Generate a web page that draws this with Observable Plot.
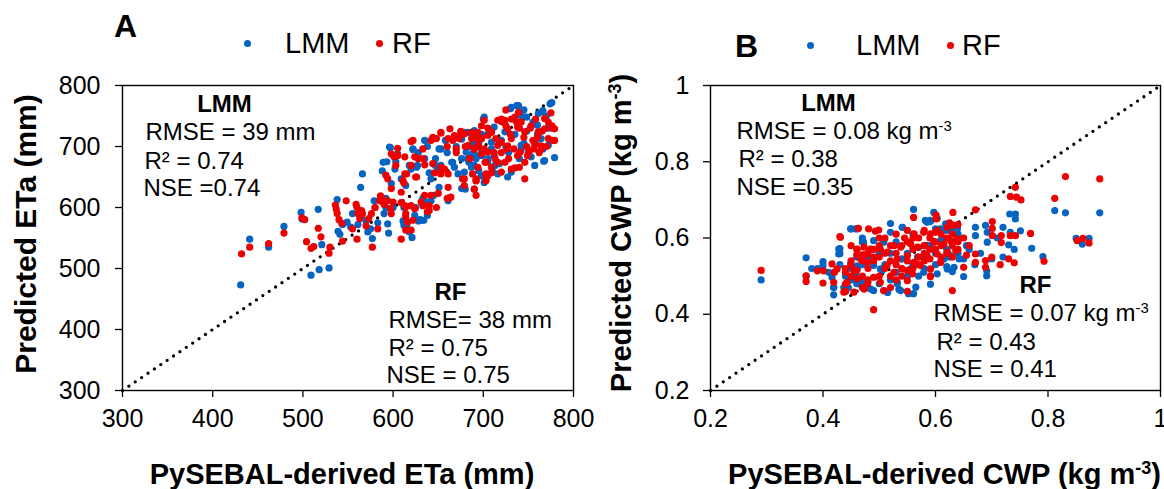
<!DOCTYPE html>
<html><head><meta charset="utf-8">
<script src="https://cdn.jsdelivr.net/npm/d3@7"></script>
<script src="https://cdn.jsdelivr.net/npm/@observablehq/plot@0.6"></script>
<style>
body{margin:0;background:#fff;font-family:"Liberation Sans",Arial,sans-serif;}
#wrap{position:relative;width:1164px;height:489px;overflow:hidden;background:#fff;}
.panel{position:absolute;top:0;width:582px;height:489px;}
.hdr{position:absolute;white-space:nowrap;color:#000;}
.ldot{position:absolute;width:7px;height:7px;border-radius:50%;}
svg{overflow:visible;}
</style></head><body><div id="wrap"></div>
<script>
// ---------- data ----------
const seriesNames = ["LMM", "RF"];
const seriesColors = ["#0563c1", "#ee0000"];
const panelLetters = ["A", "B"];

const etaTicks = [300, 400, 500, 600, 700, 800];
const cwpTicks = [0.2, 0.4, 0.6, 0.8, 1];
const etaDiag = [300, 800];
const cwpDiag = [0.2, 1];

const etaXTitle = "PySEBAL-derived ETa (mm)";
const etaYTitle = "Predicted ETa (mm)";
const cwpXTitle = "PySEBAL-derived CWP (kg m⁻³)";
const cwpYTitle = "Predicted CWP (kg m⁻³)";

const statsA_LMM = ["RMSE = 39 mm", "R² = 0.74", "NSE =0.74"];
const statsA_RF = ["RMSE= 38 mm", "R² = 0.75", "NSE = 0.75"];
const statsB_LMM = ["RMSE = 0.08 kg m⁻³", "R² = 0.38", "NSE =0.35"];
const statsB_RF = ["RMSE = 0.07 kg m⁻³", "R² = 0.43", "NSE = 0.41"];

// Panel A: [PySEBAL ETa, predicted ETa]
const etaLMM = [
[431,473],[441,548],[462,535],[479,569],[499,581],[498,592],[517,597],[509,489],[518,498],[529,501],[521,539],[538,613],[539,561],[544,572],[541,556],[549,576],
[564,633],[566,655],[561,572],[565,585],[570,578],[577,549],[579,611],[586,615],[592,615],[594,573],[590,590],[583,575],[597,698],[588,660],[593,675],[580,600],[575,565],[555,590],[553,568],[572,560],[595,558],[600,600],
[605,688],[609,647],[614,636],[618,669],[622,695],[626,666],[635,710],[640,657],[642,647],[633,615],[639,608],[647,680],[647,669],[653,696],[611,578],[612,571],[618,560],[621,551],[628,578],[634,579],[639,609],[615,570],[625,600],[630,580],[645,620],[612,600],[603,675],[628,690],[638,700],[650,660],
[665,674],[668,666],[679,723],[683,723],[684,674],[687,666],[680,630],[690,630],[701,641],[709,696],[712,685],[660,690],[670,700],[676,712],[690,720],[695,705],[698,690],[700,745],[672,655],[695,660],[705,675],[685,700],[658,710],[698,720],
[720,741],[716,655],[731,658],[730,762],[739,767],[766,757],[776,772],[779,682],[767,676],[725,700],[735,720],[745,705],[750,690],[755,740],[760,720],[770,750],[765,700],[740,680],[728,690],[710,660],[745,760],[758,705],[748,725],[735,745],[772,730],[720,710],[705,720],[712,732],[760,735],[742,695],[718,672],[727,650],
[731,764],[737,767],[701,748],[748,748],[761,754],[766,759],[774,770],[694,721],[689,707],[764,713],[766,696],[772,702],[768,677],[753,683],[702,644],[690,669],[713,669],[692,685],[724,724],[709,707],[742,702],[757,669],[742,751],
[596,699],[622,696],[651,696],[690,726],[676,680],[683,680],[692,680],[698,685],[705,680],[681,691],[688,688],[635,680],[627,669],[620,663],[653,669],[666,674],[602,663],[589,674],[679,658],[676,631],[698,652],[651,633],[642,611],[598,639],[590,612],[592,600],[631,579],[638,587],[624,587],[661,611]
];
const etaRF = [
[432,524],[441,535],[462,541],[479,558],[499,583],[502,580],[504,544],[509,533],[512,536],[517,566],[520,552],[529,525],[530,535],[536,604],[537,597],[538,590],[540,580],[543,574],[548,611],[544,545],
[559,605],[560,600],[561,590],[563,582],[560,548],[565,595],[566,590],[573,582],[576,590],[577,535],[585,611],[586,619],[588,615],[597,598],[598,590],[570,570],[555,565],[580,600],[590,605],[583,565],
[614,601],[614,585],[614,563],[609,548],[620,563],[622,579],[638,593],[631,609],[648,600],[660,615],[601,683],[605,697],[620,708],[633,696],[644,715],[653,722],[612,640],[609,625],[609,608],[620,603],[633,603],[646,657],[653,666],[642,620],[640,603],[650,623],[603,669],[598,688],[628,680],[615,655],[625,650],[635,670],
[661,655],[662,616],[668,718],[673,713],[677,647],[679,636],[687,723],[690,718],[694,713],[698,734],[701,743],[705,730],[690,696],[698,688],[703,674],[709,666],[690,630],[692,620],[703,652],[692,644],[703,644],[680,700],[670,690],[685,680],[695,700],[675,725],[660,700],[688,655],
[709,657],[709,723],[714,713],[720,707],[727,701],[716,743],[722,740],[725,734],[716,674],[734,696],[741,691],[749,685],[756,696],[764,701],[739,756],[735,748],[737,740],[768,746],[772,740],[776,730],[779,710],[746,647],[730,720],[745,715],[752,730],[760,715],[765,725],[770,700],[740,730],[728,680],[735,665],[755,710],[748,700],[725,760],[742,740],[758,745],[712,690],[720,690],[775,755],[762,690],
[692,647],[703,655],[720,745],[724,743],[731,745],[727,729],[738,732],[709,724],[698,713],[690,696],[705,691],[716,702],[731,713],[746,724],[753,734],[761,724],[768,729],[776,734],[772,713],[757,704],[764,696],[777,710],[779,729],[724,674],[738,685],[746,674],[731,663],[720,658],[702,674],[694,666],[740,666],[713,680],[726,696],[751,693],
[622,710],[648,713],[653,723],[661,713],[666,710],[642,710],[674,718],[679,721],[687,713],[694,723],[698,713],[705,718],[670,696],[683,702],[694,702],[701,696],[605,685],[613,683],[624,683],[620,669],[633,680],[644,672],[592,653],[594,647],[613,655],[611,644],[626,650],[653,655],[657,663],[679,647],[692,644],[705,652],[661,633],[664,617],[598,631],[589,609],[594,611],[600,609],[613,603],[635,620],[640,595],[624,598],[614,590],[616,576],[663,729]
];

// Panel B: [PySEBAL CWP, predicted CWP]
const cwpLMM = [
[0.29,0.49],[0.37,0.548],[0.37,0.50],[0.39,0.52],[0.40,0.538],[0.40,0.528],[0.41,0.51],[0.42,0.51],[0.419,0.471],[0.419,0.451],[0.43,0.572],[0.43,0.559],[0.44,0.462],[0.445,0.47],[0.451,0.624],[0.461,0.624],[0.458,0.505],[0.461,0.527],[0.47,0.49],[0.472,0.589],[0.49,0.593],[0.508,0.593],[0.49,0.462],[0.515,0.457],[0.532,0.48],[0.552,0.454],[0.561,0.454],[0.52,0.638],[0.541,0.628],[0.561,0.675],[0.585,0.641],[0.591,0.643],[0.603,0.651],
[0.45,0.52],[0.46,0.55],[0.47,0.53],[0.48,0.545],[0.485,0.57],[0.50,0.56],[0.51,0.53],[0.52,0.56],[0.53,0.51],[0.54,0.545],[0.55,0.56],[0.56,0.53],[0.57,0.575],[0.58,0.55],[0.59,0.58],[0.60,0.56],[0.61,0.595],[0.62,0.57],[0.625,0.55],[0.63,0.59],[0.597,0.667],[0.60,0.624],[0.63,0.512],[0.65,0.499],[0.64,0.56],[0.655,0.58],
[0.671,0.628],[0.671,0.606],[0.689,0.633],[0.692,0.615],[0.692,0.589],[0.72,0.628],[0.733,0.615],[0.73,0.582],[0.691,0.501],[0.691,0.514],[0.732,0.663],[0.742,0.663],[0.742,0.65],[0.751,0.619],[0.771,0.573],[0.791,0.551],[0.812,0.672],[0.831,0.666],[0.892,0.666],[0.85,0.599],[0.861,0.584],[0.873,0.599],
[0.68,0.56],[0.70,0.545],[0.71,0.60],[0.66,0.57],[0.62,0.525],[0.60,0.53],[0.58,0.52],[0.55,0.50],[0.52,0.49],[0.50,0.48],[0.48,0.47],[0.46,0.48],[0.44,0.50],[0.43,0.53],[0.47,0.60],[0.53,0.59],[0.56,0.61],[0.62,0.62],[0.64,0.61],[0.57,0.50],[0.61,0.54],[0.65,0.545],[0.67,0.53],[0.72,0.55],[0.74,0.57],[0.38,0.52],[0.45,0.49],[0.505,0.515],[0.535,0.465],
[0.449,0.624],[0.458,0.624],[0.52,0.615],[0.541,0.628],[0.582,0.646],[0.591,0.646],[0.609,0.624],[0.618,0.637],[0.627,0.62],[0.639,0.624],[0.47,0.589],[0.508,0.589],[0.428,0.571],[0.428,0.558],[0.449,0.532],[0.461,0.519],[0.479,0.541],[0.49,0.528],[0.502,0.519],[0.556,0.519],[0.579,0.51],[0.603,0.506],[0.621,0.519],[0.633,0.523],[0.615,0.545],[0.627,0.554],[0.568,0.55],[0.416,0.497],[0.419,0.47],[0.437,0.47],[0.467,0.479],[0.485,0.466],[0.508,0.462],[0.532,0.484],[0.538,0.462],[0.565,0.471],[0.591,0.479],[0.642,0.545]
];
const cwpRF = [
[0.29,0.515],[0.37,0.501],[0.37,0.486],[0.39,0.514],[0.401,0.514],[0.40,0.482],[0.43,0.604],[0.42,0.51],[0.44,0.52],[0.45,0.53],[0.45,0.54],[0.46,0.556],[0.47,0.556],[0.475,0.556],[0.463,0.625],[0.481,0.624],[0.493,0.618],[0.499,0.621],[0.561,0.654],[0.601,0.66],[0.601,0.65],[0.49,0.412],[0.55,0.46],[0.591,0.499],[0.63,0.462],[0.631,0.667],[0.671,0.674],
[0.733,0.709],[0.742,0.733],[0.744,0.707],[0.752,0.70],[0.831,0.761],[0.892,0.755],[0.812,0.704],[0.701,0.643],[0.701,0.625],[0.701,0.606],[0.717,0.606],[0.733,0.606],[0.742,0.606],[0.769,0.612],[0.852,0.593],[0.862,0.599],[0.873,0.587],[0.793,0.539],[0.65,0.523],[0.671,0.536],[0.671,0.558],[0.689,0.541],[0.689,0.523],[0.70,0.55],[0.715,0.53],[0.73,0.545],[0.74,0.535],[0.717,0.588],
[0.44,0.48],[0.45,0.50],[0.46,0.515],[0.47,0.50],[0.48,0.52],[0.47,0.54],[0.48,0.56],[0.49,0.54],[0.50,0.55],[0.50,0.58],[0.51,0.56],[0.52,0.54],[0.52,0.58],[0.53,0.56],[0.53,0.53],[0.54,0.58],[0.54,0.50],[0.55,0.54],[0.55,0.59],[0.56,0.57],[0.56,0.52],[0.57,0.55],[0.57,0.60],[0.58,0.58],[0.58,0.56],[0.59,0.60],[0.59,0.57],[0.60,0.59],[0.60,0.57],[0.61,0.61],[0.61,0.58],[0.62,0.60],[0.62,0.56],[0.63,0.58],[0.63,0.61],[0.64,0.59],[0.64,0.57],[0.65,0.60],[0.66,0.58],[0.655,0.555],
[0.48,0.49],[0.50,0.50],[0.51,0.52],[0.52,0.50],[0.53,0.49],[0.55,0.515],[0.56,0.60],[0.58,0.62],[0.60,0.615],[0.50,0.60],[0.51,0.60],[0.53,0.61],[0.545,0.60],[0.46,0.57],[0.45,0.58],[0.49,0.57],[0.57,0.53],[0.59,0.545],[0.61,0.55],[0.63,0.55],[0.625,0.64],[0.64,0.635],[0.47,0.47],[0.44,0.46],[0.52,0.47],[0.54,0.52],[0.58,0.54],
[0.55,0.62],[0.562,0.611],[0.579,0.615],[0.591,0.611],[0.603,0.62],[0.621,0.628],[0.633,0.633],[0.431,0.602],[0.461,0.571],[0.473,0.576],[0.485,0.571],[0.467,0.545],[0.479,0.536],[0.49,0.55],[0.502,0.571],[0.514,0.563],[0.526,0.58],[0.538,0.576],[0.556,0.584],[0.568,0.576],[0.58,0.58],[0.597,0.589],[0.615,0.584],[0.627,0.593],[0.639,0.598],[0.585,0.554],[0.603,0.558],[0.621,0.563],[0.636,0.567],[0.532,0.545],[0.55,0.554],[0.562,0.536],[0.514,0.528],[0.526,0.51],[0.541,0.519],[0.573,0.528],[0.591,0.519],[0.425,0.519],[0.44,0.51],[0.455,0.514],[0.443,0.484],[0.461,0.493],[0.479,0.48],[0.49,0.497],[0.437,0.458],[0.455,0.458],[0.473,0.466],[0.502,0.484],[0.508,0.462],[0.55,0.488],[0.559,0.506],[0.591,0.501],[0.609,0.536],[0.416,0.532],[0.419,0.484]
];

// ---------- drawing ----------
const FONT = '"Liberation Sans", Arial, sans-serif';
const wrap = document.getElementById("wrap");

function statMarks(lines, header, pos) {
  const marks = [Plot.text([header], {frameAnchor: "top-left", text: d => d, dx: pos.hx, dy: pos.hy,
    textAnchor: "middle", lineAnchor: "middle", fontWeight: "bold", fontSize: 24})];
  lines.forEach((t, i) => marks.push(Plot.text([t], {frameAnchor: "top-left", text: d => d,
    dx: pos.lx[i], dy: pos.ly[i], textAnchor: "start", lineAnchor: "middle", fontSize: 24})));
  return marks;
}

function makePanel(cfg) {
  const svg = Plot.plot({
    width: 582, height: 489,
    marginTop: 85, marginBottom: 99, marginLeft: cfg.ml, marginRight: cfg.mr,
    style: {fontFamily: FONT, fontSize: "25px", color: "#000", background: "transparent"},
    x: {domain: cfg.domain, ticks: cfg.ticks},
    y: {domain: cfg.domain, ticks: cfg.ticks},
    marks: [
      Plot.line(cfg.diag, {x: d => d, y: d => d, stroke: "#000", strokeWidth: 3.3, strokeDasharray: "0,7.7", strokeLinecap: "round"}),
      Plot.dot(cfg.lmm, {x: d => d[0], y: d => d[1], r: 3.6, fill: seriesColors[0]}),
      Plot.dot(cfg.rf, {x: d => d[0], y: d => d[1], r: 3.6, fill: seriesColors[1]}),
      Plot.frame({stroke: "#000", strokeWidth: 1.4}),
      Plot.axisX({ticks: cfg.ticks, tickSize: 7, tickPadding: 12, fontSize: 25, label: null, tickFormat: cfg.fmt, strokeWidth: 1.3}),
      Plot.axisY({ticks: cfg.ticks, tickSize: 7, tickPadding: cfg.ypad, fontSize: 25, label: null, tickFormat: cfg.fmt, strokeWidth: 1.3}),
      Plot.text([cfg.yTitle], {frameAnchor: "left", text: d => d, rotate: -90, dx: cfg.ytdx, dy: cfg.ytdy, fontWeight: "bold", fontSize: cfg.ytfs, lineAnchor: "middle", textAnchor: "middle"}),
      Plot.text([cfg.xTitle], {frameAnchor: "bottom", text: d => d, dy: 84, dx: cfg.xtdx, fontWeight: "bold", fontSize: 29, lineAnchor: "middle", textAnchor: "middle"}),
      ...statMarks(cfg.s1, seriesNames[0], cfg.p1),
      ...statMarks(cfg.s2, seriesNames[1], cfg.p2)
    ]
  });
  // superscript "-3"
  svg.querySelectorAll("text").forEach(t => {
    const s = t.textContent;
    if (!s.includes("⁻³") || t.children.length) return;
    const [a, b] = s.split("⁻³");
    t.textContent = "";
    t.append(a);
    const sp = document.createElementNS("http://www.w3.org/2000/svg", "tspan");
    sp.setAttribute("baseline-shift", "super");
    sp.setAttribute("font-size", "62%");
    sp.textContent = "-3";
    t.append(sp);
    if (b) t.append(b);
  });
  const div = document.createElement("div");
  div.className = "panel";
  div.style.left = cfg.left + "px";
  div.appendChild(svg);
  // header: letter + legend
  const hdr = cfg.hdr;
  const letter = document.createElement("div");
  letter.className = "hdr";
  letter.style.cssText = `left:${hdr.lx}px;top:${hdr.ly - 0.49 * 32}px;font-size:32px;line-height:32px;font-weight:bold;`;
  letter.textContent = cfg.letter;
  div.appendChild(letter);
  seriesNames.forEach((n, i) => {
    const dot = document.createElement("div");
    dot.className = "ldot";
    dot.style.cssText = `left:${hdr.dx[i] - 3.5}px;top:${hdr.cy - 3.5}px;background:${seriesColors[i]};`;
    div.appendChild(dot);
    const tx = document.createElement("div");
    tx.className = "hdr";
    tx.style.cssText = `left:${hdr.tx[i]}px;top:${hdr.cy - 0.49 * 29}px;font-size:29px;line-height:29px;`;
    tx.textContent = n;
    div.appendChild(tx);
  });
  wrap.appendChild(div);
}

makePanel({
  left: 0, ml: 122, mr: 9, ypad: 15, letter: panelLetters[0],
  domain: [300, 800], ticks: etaTicks, diag: etaDiag, fmt: d => String(d),
  lmm: etaLMM, rf: etaRF, xTitle: etaXTitle, yTitle: etaYTitle, ytdx: -96, ytdy: -4, ytfs: 30, xtdx: -6,
  s1: statsA_LMM, s2: statsA_RF,
  p1: {hx: 102, hy: 19, lx: [23, 22, 21], ly: [47, 76, 103]},
  p2: {hx: 328, hy: 207, lx: [266, 266, 264], ly: [235, 263, 290]},
  hdr: {lx: 114, ly: 26, cy: 43, dx: [247, 379], tx: [285, 392]}
});
makePanel({
  left: 582, ml: 128, mr: 4, ypad: 14, letter: panelLetters[1],
  domain: [0.2, 1], ticks: cwpTicks, diag: cwpDiag, fmt: d => String(d),
  lmm: cwpLMM, rf: cwpRF, xTitle: cwpXTitle, yTitle: cwpYTitle, ytdx: -89, ytdy: -5, ytfs: 29, xtdx: 9,
  s1: statsB_LMM, s2: statsB_RF,
  p1: {hx: 118, hy: 18, lx: [26, 28, 26], ly: [46, 74, 102]},
  p2: {hx: 325, hy: 200, lx: [223, 226, 223], ly: [228, 257, 284]},
  hdr: {lx: 153, ly: 46, cy: 45, dx: [228, 368], tx: [274, 380]}
});
</script></body></html>
